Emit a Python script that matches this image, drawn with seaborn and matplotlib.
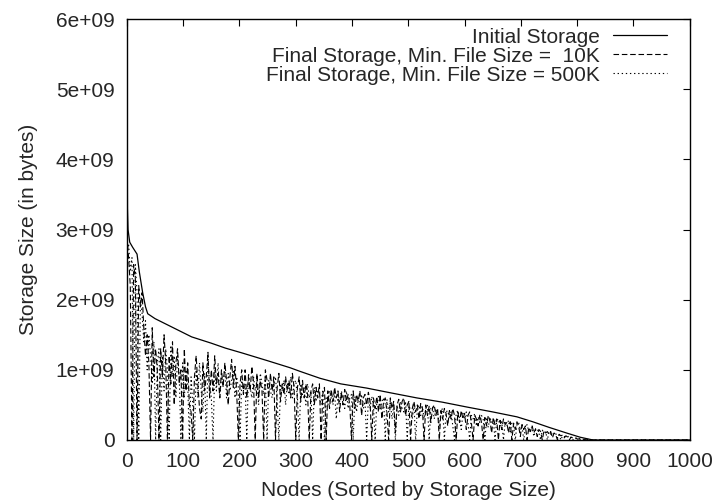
import matplotlib
matplotlib.use("Agg")
import matplotlib.pyplot as plt
import seaborn as sns
import pandas as pd
from matplotlib.ticker import FuncFormatter, MultipleLocator

# ---------------- data (storage in units of 1e9 bytes) ----------------
init_nodes = [0, 1, 2, 5, 10, 18, 22, 28, 33, 37, 50, 70, 100, 115, 150, 175, 205,
              250, 290, 307, 343, 380, 426, 470, 515, 560, 604, 650, 693, 721, 750,
              781, 805, 828, 1000]
init_gb = [5.8, 3.3, 3.0, 2.82, 2.75, 2.65, 2.4, 2.1, 1.9, 1.8, 1.73, 1.65, 1.53, 1.47,
           1.38, 1.31, 1.24, 1.13, 1.03, 0.98, 0.88, 0.80, 0.74, 0.67, 0.60, 0.54, 0.47,
           0.40, 0.33, 0.26, 0.18, 0.10, 0.04, 0.0, 0.0]

# nodes 0, 3, 6, ..., 831 and the last node 1000
final_nodes = list(range(0, 832, 3)) + [1000]

final_10k_gb = [
    2.9, 2.6, 2.2, 0.0, 2.5, 2.3, 0.0, 2.2, 1.9, 2.1,
    1.6, 1.2, 1.5, 1.1, 0.0, 1.6, 0.9, 1.3, 1.0, 0.0,
    1.3, 0.9, 1.5, 1.1, 0.0, 1.2, 0.8, 1.4, 0.5, 1.1,
    1.3, 0.8, 1.0, 0.0, 1.3, 0.7, 1.1, 0.5, 0.4, 0.0,
    0.9, 1.2, 0.8, 0.45, 0.3, 1.1, 0.7, 0.9, 1.25, 0.6,
    1.0, 0.7, 1.2, 0.8, 0.95, 0.6, 1.0, 0.75, 1.1, 0.85,
    0.5, 0.9, 1.15, 0.75, 1.05, 0.7, 0.0, 0.8, 1.0, 0.65,
    1.0, 0.6, 0.9, 0.7, 1.05, 0.8, 0.0, 0.95, 0.6, 0.85,
    0.7, 0.0, 1.0, 0.85, 0.6, 0.95, 0.7, 0.9, 0.0, 0.75,
    0.95, 0.55, 0.8, 0.65, 0.9, 0.7, 0.85, 0.6, 0.95, 0.75,
    0.0, 0.75, 0.9, 0.55, 0.85, 0.6, 0.8, 0.65, 0.0, 0.7,
    0.8, 0.5, 0.75, 0.6, 0.8, 0.0, 0.65, 0.75, 0.0, 0.7,
    0.45, 0.72, 0.55, 0.75, 0.6, 0.7, 0.4, 0.68, 0.5, 0.72,
    0.55, 0.65, 0.5, 0.0, 0.7, 0.45, 0.65, 0.55, 0.7, 0.35,
    0.6, 0.65, 0.5, 0.68, 0.55, 0.0, 0.6, 0.45, 0.62, 0.4,
    0.65, 0.3, 0.55, 0.6, 0.4, 0.0, 0.6, 0.45, 0.55, 0.1,
    0.5, 0.58, 0.4, 0.55, 0.6, 0.35, 0.5, 0.55, 0.0, 0.45,
    0.55, 0.4, 0.5, 0.3, 0.52, 0.45, 0.0, 0.5, 0.35, 0.48,
    0.25, 0.45, 0.5, 0.35, 0.45, 0.0, 0.42, 0.3, 0.45, 0.38,
    0.2, 0.42, 0.3, 0.45, 0.35, 0.0, 0.4, 0.25, 0.42, 0.3,
    0.38, 0.15, 0.35, 0.4, 0.25, 0.0, 0.35, 0.3, 0.2, 0.36,
    0.25, 0.0, 0.32, 0.2, 0.35, 0.28, 0.1, 0.32, 0.22, 0.3,
    0.0, 0.28, 0.15, 0.3, 0.22, 0.25, 0.1, 0.26, 0.0, 0.24,
    0.15, 0.26, 0.2, 0.05, 0.22, 0.15, 0.2, 0.0, 0.18, 0.12,
    0.2, 0.1, 0.16, 0.05, 0.15, 0.12, 0.0, 0.13, 0.1, 0.12,
    0.08, 0.12, 0.03, 0.1, 0.07, 0.0, 0.08, 0.06, 0.07, 0.03,
    0.06, 0.04, 0.0, 0.04, 0.03, 0.02, 0.03, 0.01, 0.02, 0.01,
    0.01, 0.01, 0.0, 0.01, 0.0, 0.0, 0.0, 0.0,
    0.0]

final_500k_gb = [
    2.7, 2.8, 2.4, 2.6, 0.0, 2.5, 2.1, 0.0, 2.0, 1.8,
    1.4, 1.7, 1.0, 1.5, 1.2, 0.8, 1.4, 0.0, 1.1, 1.3,
    0.0, 1.2, 0.7, 1.3, 1.0, 0.0, 1.35, 0.9, 1.2, 0.6,
    1.2, 0.9, 0.0, 1.1, 0.6, 1.0, 0.8, 0.0, 0.9, 0.5,
    0.0, 1.0, 0.6, 1.1, 0.7, 0.4, 0.95, 0.0, 1.15, 0.8,
    0.6, 0.0, 1.0, 0.7, 1.1, 0.6, 0.9, 0.8, 1.05, 0.6,
    0.95, 0.7, 0.85, 1.0, 0.6, 0.9, 0.75, 0.0, 0.85, 0.7,
    0.8, 0.0, 0.95, 0.75, 0.6, 0.9, 0.7, 0.85, 0.5, 0.95,
    0.8, 0.65, 0.9, 0.0, 0.85, 0.7, 0.6, 0.8, 0.9, 0.55,
    0.0, 0.8, 0.7, 0.85, 0.5, 0.8, 0.65, 0.9, 0.6, 0.8,
    0.85, 0.6, 0.0, 0.8, 0.65, 0.75, 0.5, 0.8, 0.6, 0.7,
    0.0, 0.75, 0.55, 0.7, 0.65, 0.5, 0.72, 0.0, 0.6, 0.5,
    0.7, 0.6, 0.5, 0.68, 0.3, 0.65, 0.55, 0.7, 0.6, 0.45,
    0.7, 0.45, 0.6, 0.65, 0.0, 0.62, 0.4, 0.6, 0.5, 0.65,
    0.45, 0.55, 0.0, 0.6, 0.45, 0.62, 0.5, 0.0, 0.55, 0.62,
    0.45, 0.55, 0.6, 0.0, 0.58, 0.4, 0.55, 0.3, 0.5, 0.0,
    0.5, 0.35, 0.55, 0.45, 0.4, 0.55, 0.0, 0.52, 0.4, 0.3,
    0.5, 0.0, 0.45, 0.5, 0.35, 0.48, 0.3, 0.45, 0.5, 0.0,
    0.45, 0.48, 0.3, 0.45, 0.4, 0.2, 0.42, 0.45, 0.0, 0.4,
    0.42, 0.3, 0.4, 0.2, 0.0, 0.38, 0.42, 0.3, 0.15, 0.38,
    0.3, 0.4, 0.25, 0.0, 0.35, 0.3, 0.38, 0.2, 0.33, 0.25,
    0.35, 0.3, 0.0, 0.3, 0.18, 0.32, 0.25, 0.3, 0.0, 0.28,
    0.3, 0.2, 0.26, 0.0, 0.25, 0.2, 0.28, 0.12, 0.24, 0.2,
    0.0, 0.22, 0.25, 0.14, 0.2, 0.0, 0.18, 0.22, 0.12, 0.16,
    0.18, 0.05, 0.14, 0.16, 0.1, 0.0, 0.14, 0.1, 0.12, 0.0,
    0.12, 0.08, 0.1, 0.07, 0.09, 0.03, 0.08, 0.0, 0.06, 0.05,
    0.05, 0.06, 0.02, 0.04, 0.0, 0.03, 0.02, 0.02, 0.01, 0.01,
    0.01, 0.0, 0.01, 0.0, 0.0, 0.0, 0.0, 0.0,
    0.0]

labels = ["Initial Storage",
          "Final Storage, Min. File Size =  10K",
          "Final Storage, Min. File Size = 500K"]
x_ticks = list(range(0, 1001, 100))
y_max = 6e9
GB = 1e9

df_init = pd.DataFrame({"node": init_nodes, "bytes": [v * GB for v in init_gb]})
df_10k = pd.DataFrame({"node": final_nodes, "bytes": [v * GB for v in final_10k_gb]})
df_500k = pd.DataFrame({"node": final_nodes, "bytes": [v * GB for v in final_500k_gb]})

# ---------------- style ----------------
sns.set_style("white")
plt.rcParams["font.family"] = ["Liberation Sans", "DejaVu Sans"]
FS = 15

fig = plt.figure(figsize=(7.17, 5.04), dpi=100)
ax = fig.add_axes([0.177, 0.127, 0.785, 0.835])

sns.lineplot(data=df_500k, x="node", y="bytes", ax=ax, color="black", lw=0.8,
             linestyle=(0, (1.2, 2.5)), label=labels[2], estimator=None)
sns.lineplot(data=df_10k, x="node", y="bytes", ax=ax, color="black", lw=0.8,
             linestyle=(0, (5, 2.5)), label=labels[1], estimator=None)
sns.lineplot(data=df_init, x="node", y="bytes", ax=ax, color="black", lw=0.9,
             linestyle="-", label=labels[0], estimator=None)

ax.set_xlim(0, 1000)
ax.set_ylim(0, y_max)
ax.set_xticks(x_ticks)
ax.yaxis.set_major_locator(MultipleLocator(1e9))


def fmt(v, pos):
    if v == 0:
        return "0"
    return "%de+09" % round(v / 1e9)


ax.yaxis.set_major_formatter(FuncFormatter(fmt))
ax.tick_params(direction="in", length=5, width=0.8, top=True, right=True,
               labelsize=FS, pad=9, color="black")
for s in ax.spines.values():
    s.set_color("black")
    s.set_linewidth(1.0)

ax.set_xlabel("Nodes (Sorted by Storage Size)", fontsize=FS, labelpad=7)
ax.set_ylabel("Storage Size (in bytes)", fontsize=FS, labelpad=13)

handles, labs = ax.get_legend_handles_labels()
order = [labs.index(l) for l in labels]
leg = ax.legend([handles[i] for i in order], [labs[i] for i in order],
                loc="upper right", bbox_to_anchor=(0.96, 0.98), frameon=False,
                markerfirst=False, fontsize=FS, handlelength=2.6,
                handletextpad=0.65, labelspacing=0.0, borderpad=0,
                borderaxespad=0)

fig.savefig("out.png", dpi=100, facecolor="white")
